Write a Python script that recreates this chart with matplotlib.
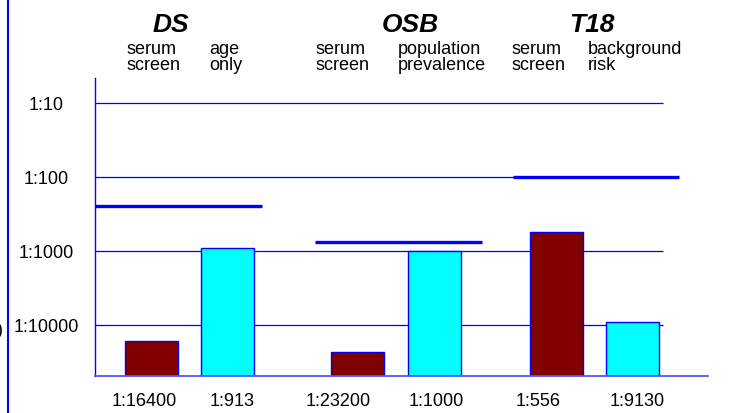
import matplotlib
matplotlib.use("Agg")
import matplotlib.pyplot as plt
from matplotlib.lines import Line2D

plt.rcParams['font.family'] = ['Liberation Sans', 'DejaVu Sans']

# ---- data ----
groups = ["DS", "OSB", "T18"]
sub_line1 = ["serum", "age", "serum", "population", "serum", "background"]
sub_line2 = ["screen", "only", "screen", "prevalence", "screen", "risk"]
risk_denominators = [16400, 913, 23200, 1000, 556, 9130]
risk_labels = ["1:16400", "1:913", "1:23200", "1:1000", "1:556", "1:9130"]
bar_kinds = ["screen", "base", "screen", "base", "screen", "base"]
cutoff_denominators = [250, 750, 100]
ytick_denominators = [10, 100, 1000, 10000]
ytick_labels = ["1:10", "1:100", "1:1000", "1:10000"]

# ---- layout (pixel-like units) ----
W, H = 736, 413
bar_x = [56.5, 132.5, 262.5, 339.5, 461.5, 537.5]
bar_w = 53
cutoff_spans = [(0, 167), (220, 387), (418, 584)]
label_x = [144.5, 232, 338, 436, 538, 637]
title_x = [171, 410, 592]
sub_x = [126, 209, 315, 398, 512, 588]
colors = {"screen": "#800000", "base": "#00FFFF"}
blue = "#0000FF"

fig = plt.figure(figsize=(W / 100, H / 100), dpi=100)
ax = fig.add_axes([95 / W, (H - 376) / H, 613 / W, 298 / H])
ax.set_yscale("log")
ax.set_xlim(0, 613)
ymin = 10 ** -4.689
ax.set_ylim(ymin, 10 ** -0.662)

yvals = [1.0 / d for d in ytick_denominators]
ax.hlines(yvals, 0, 568, colors=blue, lw=0.9, zorder=1)

vals = [1.0 / d for d in risk_denominators]
ax.bar(bar_x, [v - ymin for v in vals], width=bar_w, bottom=ymin,
       color=[colors[k] for k in bar_kinds], edgecolor=blue, lw=1.0, zorder=2)

for (x0, x1), d in zip(cutoff_spans, cutoff_denominators):
    ax.hlines(1.0 / d, x0, x1, colors=blue, lw=2.4, zorder=3)

ax.set_yticks(yvals)
ax.set_yticklabels(ytick_labels, fontsize=13, ha="center")
ax.yaxis.set_minor_locator(matplotlib.ticker.NullLocator())
ax.tick_params(axis="y", length=0, pad=35.3)
ax.set_xticks([])
for s in ["top", "right"]:
    ax.spines[s].set_visible(False)
ax.spines["left"].set_color(blue)
ax.spines["left"].set_linewidth(1.0)
ax.spines["bottom"].set_color("#5555FF")
ax.spines["bottom"].set_linewidth(1.3)

for x, lab in zip(label_x, risk_labels):
    fig.text(x / W, (H - 406) / H, lab, ha="center", va="baseline", fontsize=13)

for x, g in zip(title_x, groups):
    fig.text(x / W, 1 - 32 / H, g, ha="center", va="baseline", fontsize=19,
             fontweight="bold", fontstyle="italic")
for x, l1, l2 in zip(sub_x, sub_line1, sub_line2):
    fig.text(x / W, 1 - 70 / H, l1 + "\n" + l2, ha="left", va="baseline",
             fontsize=13, linespacing=0.93)

fig.add_artist(Line2D([8 / W, 8 / W], [0, 1], color=blue, lw=1.5,
                      transform=fig.transFigure))
fig.text(3.5 / W, 1 - 335 / H, "s)", ha="right", va="baseline", fontsize=13)

fig.savefig("out.png", dpi=100)
